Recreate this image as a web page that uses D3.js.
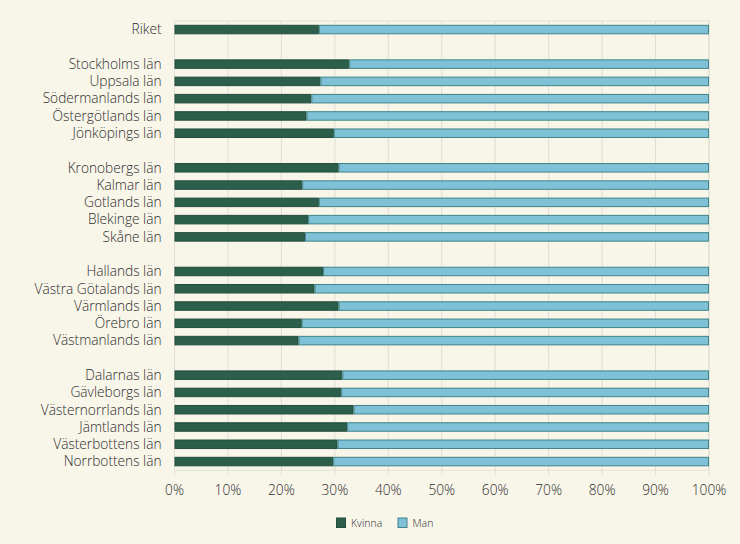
<!DOCTYPE html>
<html>
<head>
<meta charset="utf-8">
<script src="https://cdn.jsdelivr.net/npm/d3@7"></script>
<style>
  html, body { margin: 0; padding: 0; background: #f8f5e9; }
  svg { display: block; font-family: "Open Sans", sans-serif; }
</style>
</head>
<body>
<svg id="chart" width="740" height="544"></svg>
<script>
"use strict";
// grupper av län, tomrad mellan varje grupp
var groups = [
    ['Riket'],
    ['Stockholms län', 'Uppsala län', 'Södermanlands län', 'Östergötlands län', 'Jönköpings län'],
    ['Kronobergs län', 'Kalmar län', 'Gotlands län', 'Blekinge län', 'Skåne län'],
    ['Hallands län', 'Västra Götalands län', 'Värmlands län', 'Örebro län', 'Västmanlands län'],
    ['Dalarnas län', 'Gävleborgs län', 'Västernorrlands län', 'Jämtlands län', 'Västerbottens län', 'Norrbottens län']
];
var kvinna = [
    27.0,
    32.7, 27.3, 25.6, 24.7, 29.8,
    30.7, 23.9, 27.0, 25.0, 24.4,
    27.8, 26.2, 30.7, 23.8, 23.2,
    31.4, 31.2, 33.5, 32.3, 30.5, 29.7
];
var man = [
    73.0,
    67.3, 72.7, 74.4, 75.3, 70.2,
    69.3, 76.1, 73.0, 75.0, 75.6,
    72.2, 73.8, 69.3, 76.2, 76.8,
    68.6, 68.8, 66.5, 67.7, 69.5, 70.3
];
var xTicks = [0, 10, 20, 30, 40, 50, 60, 70, 80, 90, 100];
var seriesNames = ['Kvinna', 'Man'];
var colors = { Kvinna: '#2b5f4b', Man: '#7fc1d6' };
var strokes = { Kvinna: '#234d3d', Man: '#3f8488' };

var svg = d3.select('#chart');
var margin = { left: 174.5, right: 31, top: 20.9, bottom: 73.8 };
var width = 740, height = 544;

// domän med tomma platser mellan grupperna
var domain = [];
var rows = [];
var i = 0;
groups.forEach(function (g, gi) {
    if (gi > 0) domain.push('gap' + gi);
    g.forEach(function (name) {
        domain.push(name);
        rows.push({ name: name, Kvinna: kvinna[i], Man: man[i] });
        i++;
    });
});

var x = d3.scaleLinear().domain([0, 100]).range([margin.left, width - margin.right]);
var y = d3.scaleBand().domain(domain)
    .range([margin.top, height - margin.bottom])
    .paddingInner(0.45).paddingOuter(0.225);

var plotTop = y.range()[0], plotBottom = y.range()[1];

// ram och rutnät
svg.append('rect')
    .attr('x', x(0)).attr('y', plotTop)
    .attr('width', x(100) - x(0)).attr('height', plotBottom - plotTop)
    .attr('fill', 'none').attr('stroke', '#e3e0d6');

svg.append('g').selectAll('line').data(xTicks).join('line')
    .attr('x1', function (d) { return x(d); })
    .attr('x2', function (d) { return x(d); })
    .attr('y1', plotTop).attr('y2', plotBottom + 5)
    .attr('stroke', '#e0ddd3');

// staplar
var stack = d3.stack().keys(seriesNames)(rows);
svg.append('g').selectAll('g').data(stack).join('g')
    .attr('fill', function (s) { return colors[s.key]; })
    .attr('stroke', function (s) { return strokes[s.key]; })
    .selectAll('rect').data(function (s) { return s; }).join('rect')
    .attr('x', function (d) { return x(d[0]) + 0.5; })
    .attr('y', function (d) { return y(d.data.name) + 0.5; })
    .attr('width', function (d) { return Math.max(0, x(d[1]) - x(d[0]) - 1); })
    .attr('height', y.bandwidth() - 1);

// kategorietiketter
svg.append('g').selectAll('text').data(rows).join('text')
    .attr('x', margin.left - 13)
    .attr('y', function (d) { return y(d.name) + y.bandwidth() / 2; })
    .attr('dy', '0.35em')
    .attr('text-anchor', 'end')
    .attr('font-size', 13.7)
    .attr('font-weight', 300)
    .attr('fill', '#2e2e2e')
    .text(function (d) { return d.name; });

// x-axel
svg.append('g').selectAll('text').data(xTicks).join('text')
    .attr('x', function (d) { return x(d); })
    .attr('y', plotBottom + 20)
    .attr('dy', '0.35em')
    .attr('text-anchor', 'middle')
    .attr('font-size', 13.7)
    .attr('font-weight', 300)
    .attr('fill', '#2e2e2e')
    .text(function (d) { return d + '%'; });

// legend
var legend = svg.append('g').attr('transform', 'translate(336,517.5)');
var item = legend.selectAll('g').data(seriesNames).join('g')
    .attr('transform', function (d, k) { return 'translate(' + (k * 61.5) + ',0)'; });
item.append('rect')
    .attr('x', 0.5).attr('y', 0.5).attr('width', 9).attr('height', 9.5)
    .attr('fill', function (d) { return colors[d]; })
    .attr('stroke', function (d) { return strokes[d]; });
item.append('text')
    .attr('x', 15).attr('y', 5.5).attr('dy', '0.35em')
    .attr('font-size', 10.5)
    .attr('font-weight', 300)
    .attr('fill', '#2e2e2e')
    .text(function (d) { return d; });
</script>
</body>
</html>
